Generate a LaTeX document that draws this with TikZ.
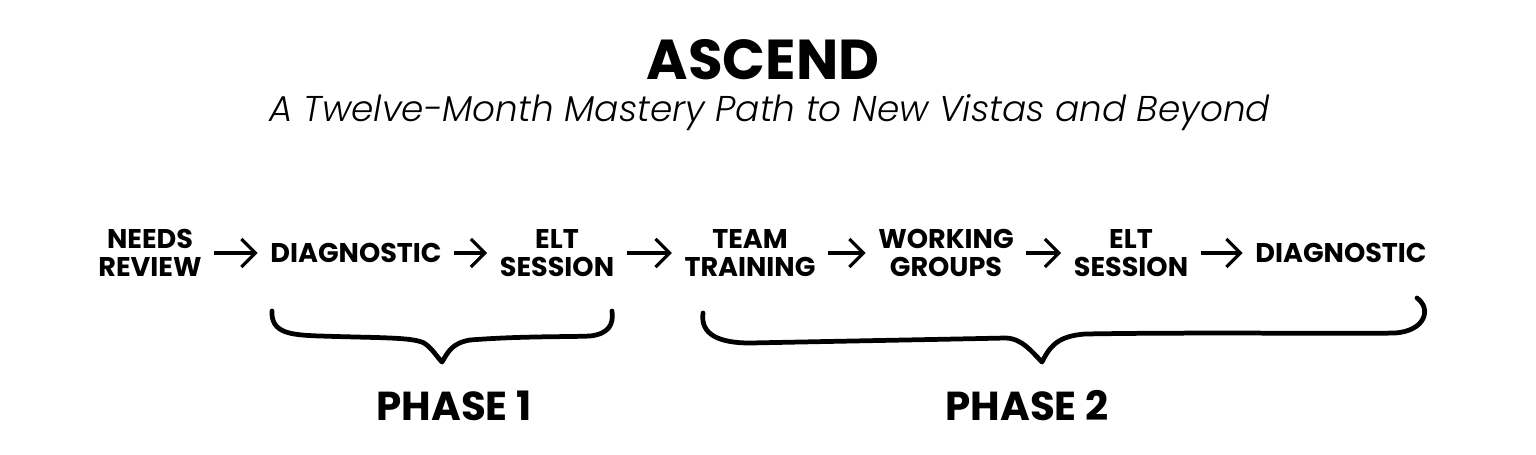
\documentclass[tikz,border=0pt]{standalone}
\usepackage{fontspec}
\setmainfont{Poppins}[UprightFont=*-SemiBold,BoldFont=*-Bold,ItalicFont=*-LightItalic]
\usepackage{tikz,xcolor}
\usetikzlibrary{arrows.meta,calc}
\tikzset{
  % one step of the path
  stepbox/.style={font=\bfseries\fontsize{7.7}{8}\selectfont,align=center,inner xsep=0.12cm,inner ysep=0pt},
  % arrow between two steps
  steparrow/.style={line width=0.9pt,-{Straight Barb[length=4pt,width=8pt,line width=0.9pt]}},
  % hand drawn brace
  bracepath/.style={line width=1.35pt,line cap=round,line join=round},
  phaselabel/.style={font=\bfseries\fontsize{11.5}{12}\selectfont},
}

\begin{document}
\begin{tikzpicture}[x=0.01cm,y=-0.01cm]
\useasboundingbox (0,0) rectangle (1536,454);
\node[font=\bfseries\fontsize{16}{16}\selectfont] (title) at (763,60) {ASCEND};
\node[font=\itshape\fontsize{10.2}{11}\selectfont] (subtitle) at (770,113) {A Twelve-Month Mastery Path to New Vistas and Beyond};

\node[stepbox] (needs) at (150,253) {NEEDS\\REVIEW};
\node[stepbox] (diagA) at (356,253) {DIAGNOSTIC};
\node[stepbox] (eltA) at (557,253) {ELT\\SESSION};
\node[stepbox] (team) at (750,253) {TEAM\\TRAINING};
\node[stepbox] (working) at (946,253) {WORKING\\GROUPS};
\node[stepbox] (eltB) at (1131,253) {ELT\\SESSION};
\node[stepbox] (diagB) at (1341,253) {DIAGNOSTIC};
\draw[steparrow] (needs) -- (diagA);
\draw[steparrow] (diagA) -- (eltA);
\draw[steparrow] (eltA) -- (team);
\draw[steparrow] (team) -- (working);
\draw[steparrow] (working) -- (eltB);
\draw[steparrow] (eltB) -- (diagB);

% braces under the two phases
\draw[bracepath] (272,311) .. controls (271,333) and (290,335) .. (320,336)
  .. controls (380,338) and (412,337) .. (424,343)
  .. controls (432,348) and (437,357) .. (442,362)
  .. controls (448,352) and (452,343) .. (470,340)
  .. controls (520,336) and (570,337) .. (590,336)
  .. controls (608,334) and (614,325) .. (612,311);
\draw[bracepath] (703,313) .. controls (700,335) and (720,343) .. (750,343)
  .. controls (850,341) and (960,339) .. (1005,338)
  .. controls (1022,338) and (1032,352) .. (1042,362)
  .. controls (1050,346) and (1058,336) .. (1085,334)
  .. controls (1200,332) and (1350,334) .. (1395,333)
  .. controls (1425,331) and (1432,309) .. (1417,298);

\node[phaselabel] (phaseA) at (454,406) {PHASE 1};
\node[phaselabel] (phaseB) at (1027,406) {PHASE 2};
\end{tikzpicture}
\end{document}
